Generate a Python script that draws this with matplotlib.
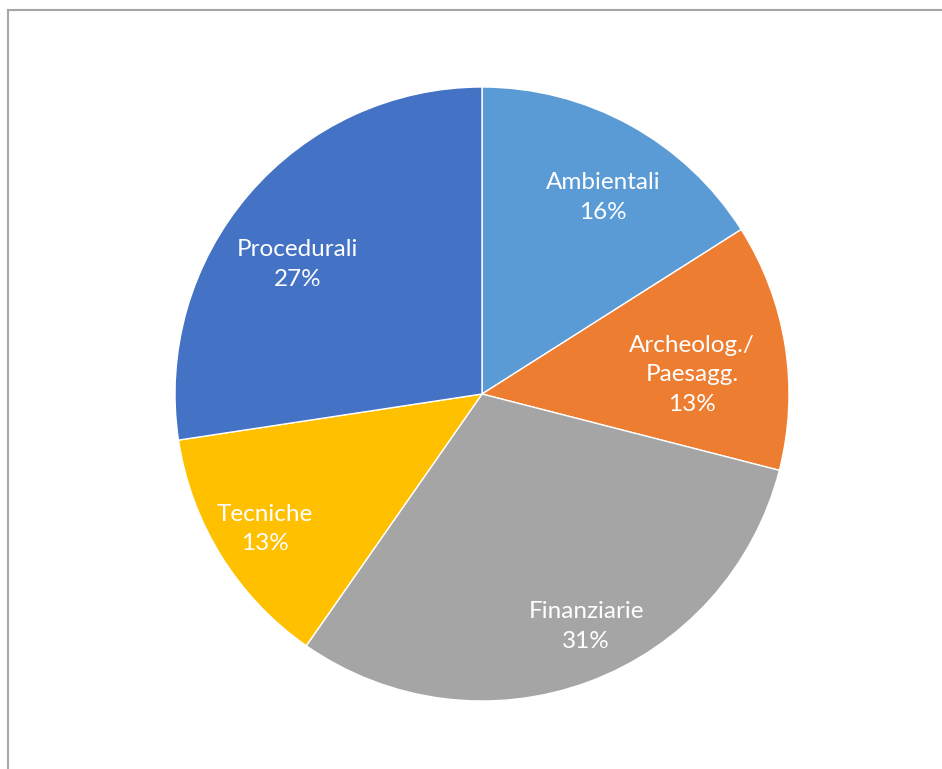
import numpy as np
import matplotlib.pyplot as plt
from matplotlib.lines import Line2D

categories = ["Ambientali", "Archeolog./\nPaesagg.", "Finanziarie", "Tecniche", "Procedurali"]
shares = [16.0, 13.0, 30.7, 12.9, 27.4]
colors = ["#5B9BD5", "#ED7D31", "#A5A5A5", "#FFC000", "#4472C4"]

# label placement (Excel "best fit"): radial fraction and clockwise angle shift from slice middle
label_dist = [0.752, 0.687, 0.83, 0.834, 0.733]
label_shift = [2.8, 3.8, -3.8, 0.0, -5.6]

plt.rcParams["font.family"] = ["Lato", "DejaVu Sans"]

W, H = 942, 769
fig = plt.figure(figsize=(W / 100, H / 100), dpi=100)

cx, cy, r = 482, 394, 307
ax = fig.add_axes([(cx - r) / W, (H - cy - r) / H, 2 * r / W, 2 * r / H])

wedges, _ = ax.pie(
    shares,
    colors=colors,
    startangle=90,
    counterclock=False,
    radius=1.0,
    wedgeprops=dict(edgecolor="white", linewidth=1.0),
)

for w, cat, val, d, s in zip(wedges, categories, shares, label_dist, label_shift):
    mid = np.deg2rad((w.theta1 + w.theta2) / 2 - s)
    x, y = d * np.cos(mid), d * np.sin(mid)
    ax.text(x, y, f"{cat}\n{round(val):d}%", ha="center", va="center",
            color="white", fontsize=17.5, linespacing=1.5)

ax.set_xlim(-1, 1)
ax.set_ylim(-1, 1)
ax.set_aspect("equal")
ax.axis("off")

# chart area border (only top and left edges visible in the crop)
fig.add_artist(Line2D([7.5 / W, 1], [1 - 9.5 / H, 1 - 9.5 / H], transform=fig.transFigure,
                      color="#A6A6A6", linewidth=1.5))
fig.add_artist(Line2D([7.5 / W, 7.5 / W], [0, 1 - 9.5 / H], transform=fig.transFigure,
                      color="#A6A6A6", linewidth=1.5))

fig.savefig("out.png", dpi=100, facecolor="white")
